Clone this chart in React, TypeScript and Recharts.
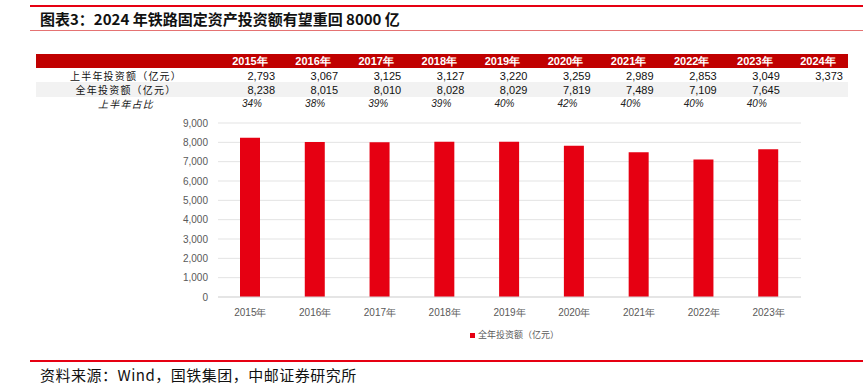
import React from "react";
import { BarChart, Bar, XAxis, YAxis, CartesianGrid } from "recharts";

const years = ["2015年", "2016年", "2017年", "2018年", "2019年", "2020年", "2021年", "2022年", "2023年"];
const tableYears = ["2015年", "2016年", "2017年", "2018年", "2019年", "2020年", "2021年", "2022年", "2023年", "2024年"];
const halfYear = [2793, 3067, 3125, 3127, 3220, 3259, 2989, 2853, 3049, 3373];
const fullYear = [8238, 8015, 8010, 8028, 8029, 7819, 7489, 7109, 7645];
const halfShare = ["34%", "38%", "39%", "39%", "40%", "42%", "40%", "40%", "40%"];
const yTicks = [0, 1000, 2000, 3000, 4000, 5000, 6000, 7000, 8000, 9000];
const rowLabels = ["上半年投资额（亿元）", "全年投资额（亿元）", "上半年占比"];
const seriesName = "全年投资额（亿元）";
const title = "图表3：2024 年铁路固定资产投资额有望重回 8000 亿";
const source = "资料来源：Wind，国铁集团，中邮证券研究所";

const data = years.map((y, i) => ({ year: y, full: fullYear[i] }));

const fmt = (v: number) => v.toLocaleString("en-US");

const RED = "#E60012";
const DARK_RED = "#C00000";
const CJK = "'Noto Sans CJK SC', sans-serif";
const NUM = "'Liberation Sans', Arial, sans-serif";

const colX0 = 250;
const colStep = 63.1;

export default function App() {
  return (
    <div style={{ position: "absolute", left: 0, top: 0, width: 863, height: 384, background: "#fff", overflow: "hidden" }}>
      {/* top lines */}
      <div style={{ position: "absolute", left: 30, top: 5, width: 833, height: 2, background: RED }} />
      <div style={{ position: "absolute", left: 40, top: 9, height: 20, lineHeight: "20px", fontFamily: CJK, fontWeight: 700, fontSize: 15, color: "#111", whiteSpace: "nowrap" }}>
        {title}
      </div>
      <div style={{ position: "absolute", left: 30, top: 30, width: 833, height: 1, background: "#E57373" }} />

      {/* table */}
      <div style={{ position: "absolute", left: 36, top: 54, width: 812, height: 14, background: DARK_RED }} />
      <div style={{ position: "absolute", left: 36, top: 82, width: 812, height: 15, background: "#F2F2F2" }} />
      {tableYears.map((y, i) => (
        <div key={"h" + i} style={{ position: "absolute", left: colX0 + colStep * i - 30, width: 60, top: 54, height: 14, lineHeight: "14px", textAlign: "center", color: "#fff", fontWeight: 700, fontFamily: NUM, fontSize: 11, whiteSpace: "nowrap" }}>
          {y}
        </div>
      ))}
      {rowLabels.map((l, r) => (
        <div key={"l" + r} style={{ position: "absolute", left: 61, width: 130, top: 70 + r * 14, height: 12, lineHeight: "12px", textAlign: "center", color: "#111", fontFamily: CJK, fontSize: 10, letterSpacing: 1.2, fontStyle: r === 2 ? "italic" : "normal", fontWeight: 400, whiteSpace: "nowrap" }}>
          {l}
        </div>
      ))}
      {halfYear.map((v, i) => (
        <div key={"a" + i} style={{ position: "absolute", left: colX0 + colStep * i - 40, width: 65, top: 69, height: 14, lineHeight: "14px", textAlign: "right", color: "#111", fontFamily: NUM, fontSize: 11, whiteSpace: "nowrap" }}>
          {fmt(v)}
        </div>
      ))}
      {fullYear.map((v, i) => (
        <div key={"b" + i} style={{ position: "absolute", left: colX0 + colStep * i - 40, width: 65, top: 83, height: 14, lineHeight: "14px", textAlign: "right", color: "#111", fontFamily: NUM, fontSize: 11, whiteSpace: "nowrap" }}>
          {fmt(v)}
        </div>
      ))}
      {halfShare.map((v, i) => (
        <div key={"c" + i} style={{ position: "absolute", left: colX0 + colStep * i - 8, width: 40, top: 97, height: 14, lineHeight: "14px", textAlign: "left", color: "#222", fontFamily: NUM, fontStyle: "italic", fontSize: 10, whiteSpace: "nowrap" }}>
          {v}
        </div>
      ))}

      {/* chart */}
      <div style={{ position: "absolute", left: 0, top: 0 }}>
        <BarChart width={863} height={384} data={data} margin={{ top: 123, right: 62, bottom: 0, left: 0 }}>
          <CartesianGrid vertical={false} stroke="#E3E3E3" />
          <XAxis
            dataKey="year"
            height={87}
            tickLine={false}
            axisLine={{ stroke: "#D9D9D9" }}
            tick={{ fontSize: 10, fill: "#595959", fontFamily: NUM }}
            tickMargin={6}
            interval={0}
          />
          <YAxis
            width={218}
            domain={[0, 9000]}
            ticks={yTicks}
            interval={0}
            tickFormatter={fmt}
            axisLine={false}
            tickLine={false}
            tickSize={0}
            tickMargin={10}
            tick={{ fontSize: 10, fill: "#595959", fontFamily: NUM }}
          />
          <Bar dataKey="full" name={seriesName} fill={RED} barSize={20} isAnimationActive={false} />
        </BarChart>
      </div>

      {/* legend */}
      <div style={{ position: "absolute", left: 470, top: 328, height: 14, display: "flex", alignItems: "center", whiteSpace: "nowrap" }}>
        <span style={{ display: "inline-block", width: 5, height: 5, background: RED, marginRight: 3 }} />
        <span style={{ fontFamily: CJK, fontSize: 9, lineHeight: "14px", color: "#595959" }}>{seriesName}</span>
      </div>

      {/* footer */}
      <div style={{ position: "absolute", left: 30, top: 360, width: 833, height: 1.5, background: RED }} />
      <div style={{ position: "absolute", left: 40, top: 366, height: 17, lineHeight: "17px", fontFamily: CJK, fontSize: 15, letterSpacing: 0.5, color: "#111", whiteSpace: "nowrap" }}>
        {source}
      </div>
    </div>
  );
}
